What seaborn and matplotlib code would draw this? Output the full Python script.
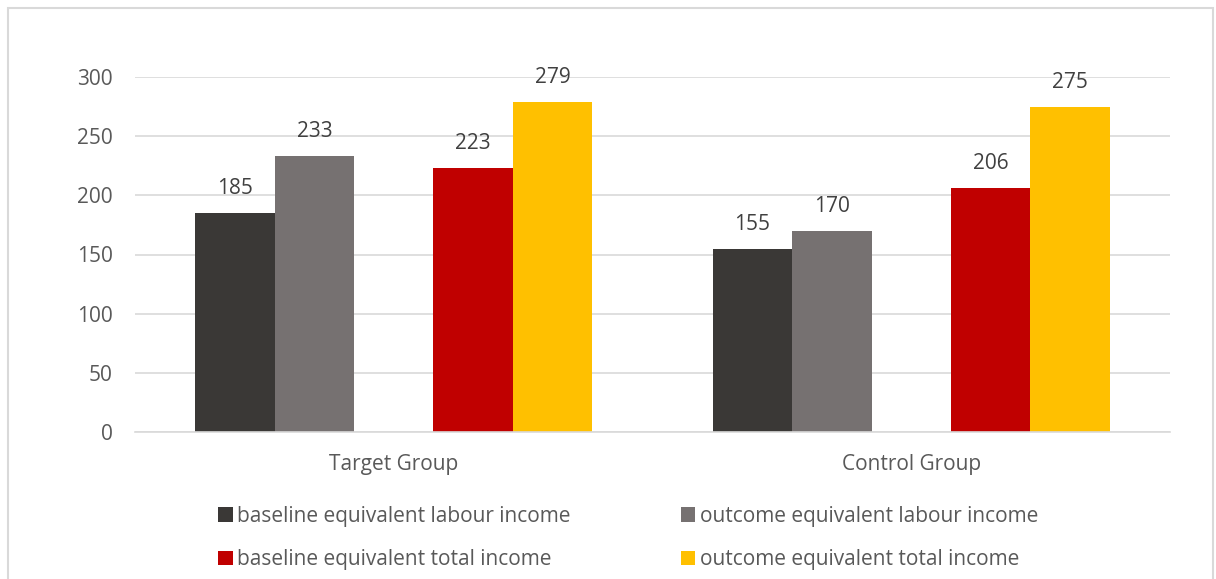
import matplotlib
matplotlib.use("Agg")
import matplotlib.pyplot as plt
import seaborn as sns
import pandas as pd
from matplotlib.patches import Patch, Rectangle

groups = ["Target Group", "Control Group"]
series = ["baseline equivalent labour income", "outcome equivalent labour income",
          "baseline equivalent total income", "outcome equivalent total income"]
baseline_labour = [185, 155]
outcome_labour = [233, 170]
baseline_total = [223, 206]
outcome_total = [279, 275]
yticks = [0, 50, 100, 150, 200, 250, 300]

colors = {series[0]: "#3a3836", series[1]: "#767171",
          series[2]: "#c00000", series[3]: "#ffc000", "_gap": "#ffffff"}

rows = []
for vals, s in zip([baseline_labour, outcome_labour, baseline_total, outcome_total], series):
    for g, v in zip(groups, vals):
        rows.append({"group": g, "series": s, "value": v})
df = pd.DataFrame(rows)

sns.set_style("white")
plt.rcParams["font.family"] = ["Open Sans", "DejaVu Sans"]

fig = plt.figure(figsize=(12.16, 5.79), dpi=100)
ax = fig.add_axes([135/1216, 1-432/579, (1170-135)/1216, (432-77)/579])

hue_order = [series[0], series[1], "_gap", series[2], series[3]]
sns.barplot(data=df, x="group", y="value", hue="series", hue_order=hue_order,
            palette=colors, width=0.767, gap=0, legend=False, ax=ax,
            saturation=1, errorbar=None, order=groups, linewidth=0)

for c in ax.containers:
    ax.bar_label(c, fmt="%.0f", padding=10, fontsize=15, color="#404040", clip_on=False)

ax.set_ylim(0, 300)
ax.set_xlim(-0.5, 1.5)
ax.set_yticks(yticks)
ax.yaxis.grid(True, color="#d9d9d9", linewidth=1.2)
ax.set_axisbelow(True)
for s in ["left", "right", "top"]:
    ax.spines[s].set_visible(False)
ax.spines["bottom"].set_color("#d9d9d9")
ax.spines["bottom"].set_linewidth(1.2)
ax.tick_params(axis="both", length=0, labelsize=15, colors="#595959")
ax.tick_params(axis="y", pad=16)
ax.tick_params(axis="x", pad=16)
ax.set_xlabel("")
ax.set_ylabel("")

handles = [Patch(facecolor=colors[s], edgecolor="none") for s in series]
order = [0, 2, 1, 3]
fig.legend([handles[i] for i in order], [series[i] for i in order],
           loc="center", bbox_to_anchor=(628/1216, 1-538/579), ncol=2,
           frameon=False, fontsize=15, labelcolor="#595959",
           handlelength=0.7, handleheight=0.7, handletextpad=0.2,
           columnspacing=5.3, labelspacing=1.1)

fig.patches.append(Rectangle((8/1216, -0.05), (1213-8)/1216, 1.05 - 8/579,
                             transform=fig.transFigure, fill=False,
                             edgecolor="#d9d9d9", linewidth=1.5))

fig.savefig("out.png", dpi=100)
